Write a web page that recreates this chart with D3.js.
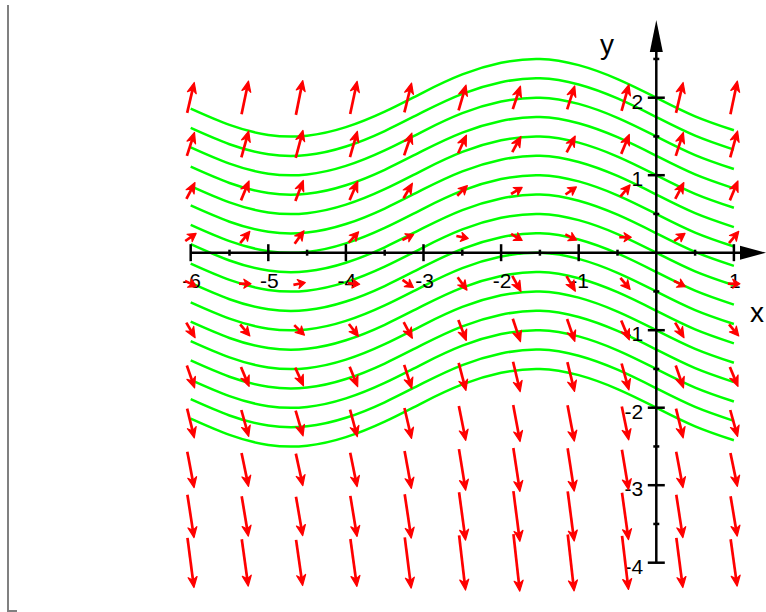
<!DOCTYPE html>
<html>
<head>
<meta charset="utf-8">
<script src="https://cdn.jsdelivr.net/npm/d3@7"></script>
<style>
  html, body { margin: 0; padding: 0; background: #fff; }
  svg { display: block; font-family: "Liberation Sans", Arial, sans-serif; }
</style>
</head>
<body>
<svg id="chart" width="766" height="612"></svg>
<script>
// Direction field grid (data coordinates)
const gridX = [-6, -5.3, -4.6, -3.9, -3.2, -2.5, -1.8, -1.1, -0.4, 0.3, 1.0];
const gridY = [2.0, 1.4, 0.8, 0.2, -0.4, -1.0, -1.6, -2.2, -2.8, -3.4, -4.0];

// slope dy/dx at each grid point, one row per gridY value
const slopes = [
  [4.3, 4.8, 5.0, 4.7, 4.1, 3.4, 3.0, 3.1, 3.6, 4.3, 4.8],
  [3.1, 3.6, 3.8, 3.5, 2.9, 2.2, 1.8, 1.9, 2.4, 3.1, 3.6],
  [1.9, 2.4, 2.6, 2.3, 1.7, 1.0, 0.6, 0.7, 1.2, 1.9, 2.4],
  [0.7, 1.2, 1.4, 1.1, 0.5, -0.2, -0.6, -0.5, 0.0, 0.7, 1.2],
  [-0.5, 0.0, 0.2, -0.1, -0.7, -1.4, -1.8, -1.7, -1.2, -0.5, 0.0],
  [-1.7, -1.2, -1.0, -1.3, -1.9, -2.6, -3.0, -2.9, -2.4, -1.7, -1.2],
  [-2.9, -2.4, -2.2, -2.5, -3.1, -3.8, -4.2, -4.1, -3.6, -2.9, -2.4],
  [-4.1, -3.6, -3.4, -3.7, -4.3, -5.0, -5.4, -5.3, -4.8, -4.1, -3.6],
  [-5.3, -4.8, -4.6, -4.9, -5.5, -6.2, -6.6, -6.5, -6.0, -5.3, -4.8],
  [-6.5, -6.0, -5.8, -6.1, -6.7, -7.4, -7.8, -7.7, -7.2, -6.5, -6.0],
  [-7.7, -7.2, -7.0, -7.3, -7.9, -8.6, -9.0, -8.9, -8.4, -7.7, -7.2]
];

// Green curves: common wave profile shifted by each level
const waveX = [-6, -5.5, -5, -4.5, -4, -3.5, -3, -2.5, -2, -1.5, -1, -0.5, 0, 0.5, 1];
const waveY = [-0.14, -0.35, -0.48, -0.49, -0.38, -0.18, 0.07, 0.30, 0.45, 0.50, 0.42, 0.24, 0, -0.24, -0.42];
const levels = [2, 1.75, 1.5, 1.25, 1, 0.75, 0.5, 0.25, 0, -0.25, -0.5, -0.75, -1, -1.25, -1.5, -1.75, -2];

// Axis ticks
const xTickLabels = [-6, -5, -4, -3, -2, -1, 1];
const xMinorTicks = [-5.5, -4.5, -3.5, -2.5, -1.5, -0.5, 0.5];
const yTickLabels = [2, 1, -1, -2, -3, -4];
const yMinorTicks = [2.5, 1.5, 0.5, -0.5, -1.5, -2.5, -3.5];

const svg = d3.select('#chart');

const x = d3.scaleLinear().domain([-6, 1]).range([190.7, 733.9]);
const y = d3.scaleLinear().domain([-4, 2]).range([562.7, 97.7]);

// arrow length (px) from vector magnitude sqrt(1 + slope^2)
const arrowLen = d3.scaleLinear().domain([1, 9]).range([12, 57]);

// frame bracket on the left
svg.append('path')
  .attr('d', 'M8,5 L8,611 L17,611')
  .attr('fill', 'none')
  .attr('stroke', '#808080')
  .attr('stroke-width', 2);

// green curves
const line = d3.line()
  .x(d => x(d[0]))
  .y(d => y(d[1]))
  .curve(d3.curveNatural);

svg.append('g')
  .selectAll('path')
  .data(levels)
  .join('path')
  .attr('d', c => line(waveX.map((wx, i) => [wx, c + waveY[i]])))
  .attr('fill', 'none')
  .attr('stroke', '#00ff00')
  .attr('stroke-width', 2.5);

// axes
const axes = svg.append('g').attr('stroke', '#000').attr('stroke-width', 2.5);
const x0 = x(0), y0 = y(0);

axes.append('line')
  .attr('x1', x(-6)).attr('x2', 742)
  .attr('y1', y0).attr('y2', y0);
axes.append('line')
  .attr('x1', x0).attr('x2', x0)
  .attr('y1', y(-4)).attr('y2', 48);

svg.append('path')
  .attr('d', `M740,${y0 - 7} L766,${y0} L740,${y0 + 7} Z`)
  .attr('fill', '#000');
svg.append('path')
  .attr('d', `M${x0 - 6.5},52 L${x0},20 L${x0 + 6.5},52 Z`)
  .attr('fill', '#000');

axes.selectAll('.xmaj')
  .data(xTickLabels)
  .join('line')
  .attr('x1', d => x(d)).attr('x2', d => x(d))
  .attr('y1', y0 - 8.5).attr('y2', y0 + 8.5);
axes.selectAll('.xmin')
  .data(xMinorTicks)
  .join('line')
  .attr('x1', d => x(d)).attr('x2', d => x(d))
  .attr('y1', y0 - 3).attr('y2', y0 + 3);
axes.selectAll('.ymaj')
  .data(yTickLabels)
  .join('line')
  .attr('y1', d => y(d)).attr('y2', d => y(d))
  .attr('x1', x0 - 8.5).attr('x2', x0 + 8.5);
axes.selectAll('.ymin')
  .data(yMinorTicks)
  .join('line')
  .attr('y1', d => y(d)).attr('y2', d => y(d))
  .attr('x1', x0 - 3).attr('x2', x0 + 3);

// tick labels
svg.append('g')
  .selectAll('text')
  .data(xTickLabels)
  .join('text')
  .attr('x', d => x(d) + 1)
  .attr('y', y0 + 35.5)
  .attr('text-anchor', 'middle')
  .attr('font-size', 21)
  .text(d => d);

svg.append('g')
  .selectAll('text')
  .data(yTickLabels)
  .join('text')
  .attr('x', x0 - 13)
  .attr('y', d => y(d) + 11)
  .attr('text-anchor', 'end')
  .attr('font-size', 21)
  .text(d => d);

svg.append('text').attr('x', 757).attr('y', 322)
  .attr('text-anchor', 'middle').attr('font-size', 28).text('x');
svg.append('text').attr('x', 607).attr('y', 54)
  .attr('text-anchor', 'middle').attr('font-size', 28).text('y');

// direction field arrows
const arrows = [];
gridY.forEach((gy, r) => {
  gridX.forEach((gx, c) => arrows.push({ gx, gy, s: slopes[r][c] }));
});

const ag = svg.append('g');
arrows.forEach(a => {
  const cx = x(a.gx), cy = y(a.gy);
  // direction in pixel space
  let dx = x(a.gx + 1) - x(a.gx);
  let dy = y(a.gy + a.s) - y(a.gy);
  const n = Math.hypot(dx, dy);
  dx /= n; dy /= n;
  const L = arrowLen(Math.sqrt(1 + a.s * a.s));
  const tx = cx + dx * L / 2, ty = cy + dy * L / 2;
  const sx = cx - dx * L / 2, sy = cy - dy * L / 2;
  const hl = Math.min(10.5, L * 0.6), hw = 4.5;
  const bx = tx - dx * hl, by = ty - dy * hl;
  const nx = tx - dx * hl * 0.7, ny = ty - dy * hl * 0.7;

  ag.append('line')
    .attr('x1', sx).attr('y1', sy)
    .attr('x2', nx).attr('y2', ny)
    .attr('stroke', '#ff0000')
    .attr('stroke-width', 2.7);
  ag.append('path')
    .attr('d', `M${tx},${ty} L${bx - dy * hw},${by + dx * hw} L${nx},${ny} L${bx + dy * hw},${by - dx * hw} Z`)
    .attr('fill', '#ff0000')
    .attr('stroke', '#ff0000')
    .attr('stroke-width', 1.2)
    .attr('stroke-linejoin', 'round');
});
</script>
</body>
</html>
